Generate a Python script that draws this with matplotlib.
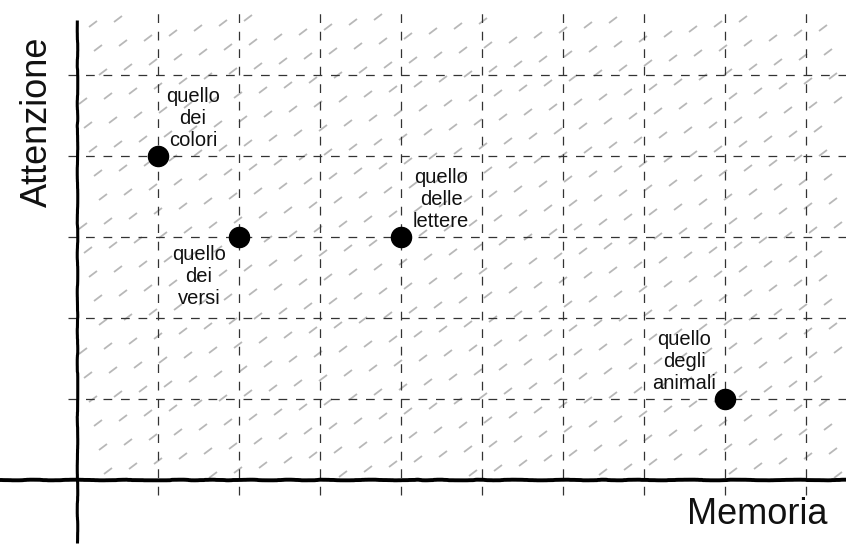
import numpy as np
import matplotlib.pyplot as plt
from matplotlib.collections import LineCollection

# data: position of each game on the memoria / attenzione grid
games = ["quello\ndei\ncolori", "quello\ndei\nversi", "quello\ndelle\nlettere", "quello\ndegli\nanimali"]
memoria = [1, 2, 4, 8]
attenzione = [4, 3, 3, 1]
# label offsets (pixels) relative to the dot
label_dx = [35, -40, 40, -41]
label_above = [True, False, True, True]

grid_x = np.arange(1, 10)
grid_y = np.arange(1, 6)

plt.rcParams['font.family'] = ['Liberation Sans', 'DejaVu Sans']

fig = plt.figure(figsize=(8.46, 5.45), dpi=100)
ax = fig.add_axes([0, 0, 1, 1])
unit = 81.0
ax.set_xlim(-77 / unit, 769 / unit)
ax.set_ylim(-65 / unit, 480 / unit)
ax.axis('off')

top = (480 - 13) / unit
right = 769 / unit

# light hatch background: short strokes on a skewed lattice
a = np.array([25.0, 5.0]) / unit
b = np.array([-5.0, 24.0]) / unit
ang = np.deg2rad(37)
half = 5.0 / unit * np.array([np.cos(ang), np.sin(ang)])
segs = []
for i in range(-10, 40):
    for j in range(-10, 30):
        p = i * a + j * b + np.array([6, 4]) / unit
        p0, p1 = p - half, p + half
        if p0[0] > 0.02 and p0[1] > 0.02 and p1[0] < right and p1[1] < top:
            segs.append([p0, p1])
hatch = LineCollection(segs, colors='#b8b8b8', linewidths=1.3, zorder=1)
ax.add_collection(hatch)

# dashed grid
for gx in grid_x:
    ax.plot([gx, gx], [-15 / unit, top], color='#333333', lw=0.9, dashes=(7, 7), zorder=2)
for gy in grid_y:
    ax.plot([-9 / unit, right], [gy, gy], color='#333333', lw=0.9, dashes=(7, 7), zorder=2)

# hand-drawn axes
xa, = ax.plot([-77 / unit, right], [0, 0], color='black', lw=2.8, zorder=3, solid_capstyle='butt')
ya, = ax.plot([0, 0], [-63 / unit, (480 - 20) / unit], color='black', lw=2.2, zorder=3, solid_capstyle='butt')
xa.set_sketch_params(scale=0.3, length=150, randomness=20)
ya.set_sketch_params(scale=0.25, length=150, randomness=20)

ax.text(-40 / unit, (480 - 122) / unit, "Attenzione", rotation=90, fontsize=26,
        ha='center', va='center', color='#111111')
ax.text((757 - 77) / unit, -35 / unit, "Memoria", fontsize=26, ha='center', va='center', color='#111111')

ax.scatter(memoria, attenzione, s=210, color='black', zorder=5)

for name, x, y, dx, above in zip(games, memoria, attenzione, label_dx, label_above):
    dy = 6 if above else -8
    ax.annotate(name, (x, y), xytext=(dx * 0.72, dy * 0.72), textcoords='offset points',
                ha='center', va='bottom' if above else 'top', fontsize=14.5,
                linespacing=1.2, color='#111111', zorder=6)

fig.savefig("out.png", dpi=100)
